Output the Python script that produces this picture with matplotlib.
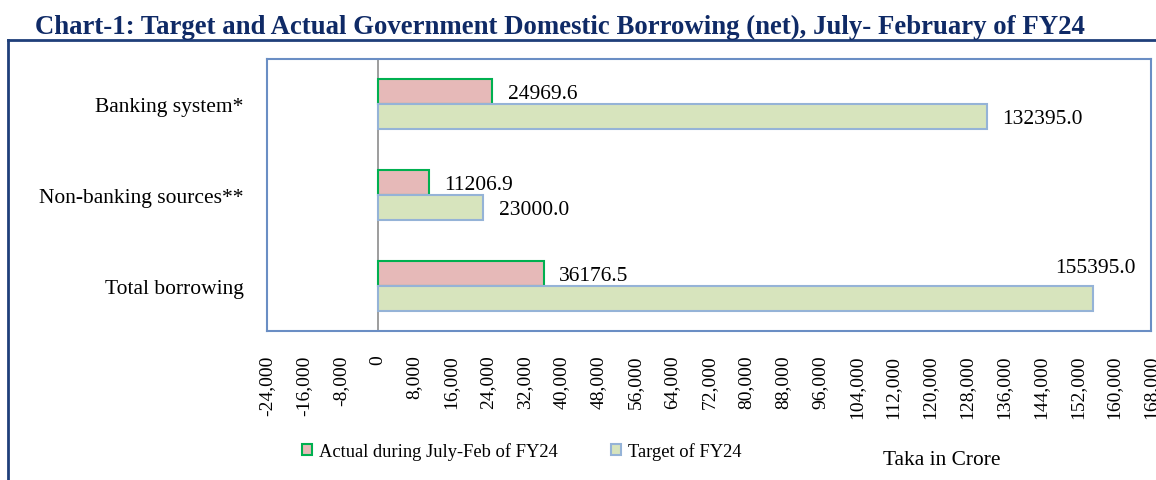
import matplotlib
matplotlib.use("Agg")
import matplotlib.pyplot as plt
from matplotlib.lines import Line2D
from matplotlib.patches import Patch
import numpy as np

categories = ["Banking system*", "Non-banking sources**", "Total borrowing"]
actual = [24969.6, 11206.9, 36176.5]
target = [132395.0, 23000.0, 155395.0]
series_names = ["Actual during July-Feb of FY24", "Target of FY24"]
xticks = list(range(-24000, 168001, 8000))
title = "Chart-1: Target and Actual Government Domestic Borrowing (net), July- February of FY24"

plt.rcParams['font.family'] = ['Liberation Serif', 'DejaVu Serif']

W, H = 1156, 481
fig = plt.figure(figsize=(W / 100, H / 100), dpi=100)

ax = fig.add_axes([267 / W, 1 - 332 / H, (1151 - 267) / W, (332 - 60) / H])

n = len(categories)
y = np.arange(n)
bh = 0.275
actual_c = dict(facecolor="#E6B9B8", edgecolor="#00B050", linewidth=1.5)
target_c = dict(facecolor="#D7E4BD", edgecolor="#95B3D7", linewidth=1.5)

ax.barh(y - bh / 2, actual, height=bh, **actual_c)
ax.barh(y + bh / 2, target, height=bh, **target_c)

ax.set_xlim(-24000, 168000)
ax.set_ylim(n - 0.5, -0.5)
ax.axvline(0, color="#8C8C8C", linewidth=1.2, zorder=0.5)

ax.set_xticks(xticks)
ax.set_xticklabels([f"{v:,}" if v != 0 else "0" for v in xticks], rotation=90, fontsize=14)
ax.tick_params(axis="x", length=0, pad=17)
ax.tick_params(axis="y", length=0, pad=17)
ax.set_yticks(y)
ax.set_yticklabels(categories, fontsize=15.5)
for s in ax.spines.values():
    s.set_edgecolor("#6A8EC4")
    s.set_linewidth(1.5)

# data labels
lab_fs = 15.5
for i, v in enumerate(actual):
    ax.annotate(f"{v:.1f}", (v, i - bh / 2), xytext=(11, -1.5), textcoords="offset points",
                va="center", ha="left", fontsize=lab_fs)
for i, v in enumerate(target):
    if v > 150000:
        ax.annotate(f"{v:.1f}", (v, i - bh / 2), xytext=(2, 4), textcoords="offset points",
                    va="center", ha="center", fontsize=lab_fs)
    else:
        ax.annotate(f"{v:.1f}", (v, i + bh / 2), xytext=(11, -1.5), textcoords="offset points",
                    va="center", ha="left", fontsize=lab_fs)

# legend
handles = [Patch(**actual_c), Patch(**target_c)]
leg = fig.legend(handles, series_names, loc="center left", bbox_to_anchor=(302 / W, 1 - 452 / H),
                 ncol=2, frameon=False, fontsize=13.3, handlelength=0.55, handleheight=0.55,
                 handletextpad=0.35, columnspacing=2.9, borderaxespad=0, borderpad=0)

fig.text(883 / W, 1 - 461 / H, "Taka in Crore", fontsize=15.4, va="center", ha="left")

# title and outer frame
fig.text(35 / W, 1 - 27 / H, title, fontsize=19.3, fontweight="bold", color="#0F2A66",
         va="center", ha="left")
fig.add_artist(Line2D([8 / W, 1.0], [1 - 41 / H, 1 - 41 / H], color="#1F3F7A", linewidth=2,
                      transform=fig.transFigure))
fig.add_artist(Line2D([8 / W, 8 / W], [1 - 41 / H, 0], color="#1F3F7A", linewidth=2,
                      transform=fig.transFigure))

fig.savefig("out.png", dpi=100)
